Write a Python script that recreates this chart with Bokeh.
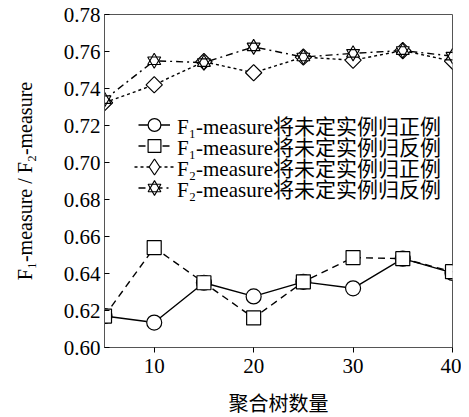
from bokeh.plotting import figure
from bokeh.models import Range1d, FixedTicker, Legend, LegendItem
from bokeh.embed import file_html
from bokeh.resources import INLINE
import numpy as np

trees = [5, 10, 15, 20, 25, 30, 35, 40]
f1_pos = [0.617, 0.6135, 0.635, 0.6276, 0.6355, 0.632, 0.648, 0.6403]
f1_neg = [0.617, 0.654, 0.635, 0.616, 0.6355, 0.6486, 0.648, 0.641]
f2_pos = [0.7323, 0.742, 0.7545, 0.7485, 0.757, 0.7553, 0.7605, 0.7548]
f2_neg = [0.734, 0.755, 0.754, 0.7625, 0.757, 0.759, 0.7605, 0.7575]
x_ticks = [10, 20, 30, 40]
y_ticks = [0.60, 0.62, 0.64, 0.66, 0.68, 0.70, 0.72, 0.74, 0.76, 0.78]
labels = ["F₁-measure将未定实例归正例", "F₁-measure将未定实例归反例",
          "F₂-measure将未定实例归正例", "F₂-measure将未定实例归反例"]
x_label = "聚合树数量"
y_label = "F₁-measure / F₂-measure"

SERIF = "Liberation Serif, Noto Sans CJK SC"

p = figure(width=461, height=417, output_backend="svg", toolbar_location=None,
           x_range=Range1d(5, 40), y_range=Range1d(0.60, 0.78),
           min_border_left=104, min_border_right=9, min_border_top=14, min_border_bottom=69)
p.xgrid.visible = False
p.ygrid.visible = False
p.outline_line_color = "#555555"
p.outline_line_width = 1
p.background_fill_color = "white"
p.border_fill_color = "white"

for ax in (p.xaxis[0], p.yaxis[0]):
    ax.axis_line_color = "#555555"
    ax.major_tick_line_color = "black"
    ax.minor_tick_line_color = None
    ax.major_label_text_font = SERIF
    ax.major_label_text_font_size = "21px"
    ax.major_label_text_color = "black"
    ax.axis_label_text_font = SERIF
    ax.axis_label_text_font_style = "normal"
    ax.axis_label_text_color = "black"

p.xaxis.ticker = FixedTicker(ticks=x_ticks)
p.yaxis.ticker = FixedTicker(ticks=y_ticks)
p.xaxis.major_label_overrides = {t: str(t) for t in x_ticks}
p.yaxis.major_label_overrides = {t: f"{t:.2f}" for t in y_ticks}
p.xaxis.major_tick_in = 0
p.xaxis.major_tick_out = 5
p.yaxis.major_tick_in = 5
p.yaxis.major_tick_out = 0
p.xaxis.major_label_standoff = 6
p.yaxis.major_label_standoff = 4
p.xaxis.axis_label = x_label
p.yaxis.axis_label = y_label
p.xaxis.axis_label_text_font_size = "20px"
p.yaxis.axis_label_text_font_size = "20px"
p.xaxis.axis_label_standoff = 17
p.yaxis.axis_label_standoff = 25

LW = 1.4
MLW = 1.2

# F1 positive: solid, circle
r1 = p.line(trees, f1_pos, line_color="black", line_width=LW)
m1 = p.scatter(trees, f1_pos, marker="circle", size=15, fill_color="white",
               line_color="black", line_width=MLW)

# F1 negative: dashed, square
r2 = p.line(trees, f1_neg, line_color="black", line_width=LW, line_dash="7 5")
m2 = p.scatter(trees, f1_neg, marker="square", size=14, fill_color="white",
               line_color="black", line_width=MLW)

# F2 positive: dotted, diamond (small diamond hidden under the rotated square,
# used only for the legend glyph)
r3 = p.line(trees, f2_pos, line_color="black", line_width=LW, line_dash="3 3")
m3_leg = p.scatter(trees, f2_pos, marker="diamond", size=6, fill_color="white",
                   line_color="black", line_width=MLW)
m3 = p.scatter(trees, f2_pos, marker="square", angle=np.pi / 4, size=11.5,
               fill_color="white", line_color="black", line_width=MLW)

# F2 negative: dash-dot, hexagram
r4 = p.line(trees, f2_neg, line_color="black", line_width=LW, line_dash="7 4 2 4")
s1 = p.scatter(trees, f2_neg, marker="triangle", size=13, fill_color="white", line_color=None)
s2 = p.scatter(trees, f2_neg, marker="inverted_triangle", size=13, fill_color="white", line_color=None)
s3 = p.scatter(trees, f2_neg, marker="triangle", size=13, fill_color=None,
               line_color="black", line_width=1.1)
s4 = p.scatter(trees, f2_neg, marker="inverted_triangle", size=13, fill_color=None,
               line_color="black", line_width=1.1)

entries = [
    (labels[0], [r1, m1], 205, 34, 32, 7),
    (labels[1], [r2, m2], 184, 34, 32, 7),
    (labels[2], [r3, m3_leg], 160, 30, 40, 3),
    (labels[3], [r4, s1, s2, s3, s4], 142, 34, 32, 7),
]
for lab, rends, ypos, xpos, gw, stand in entries:
    gh = 35 if gw == 32 else 41
    lg = Legend(items=[LegendItem(label=lab, renderers=rends)], location=(xpos, ypos))
    lg.label_text_font = SERIF
    lg.label_text_font_size = "21px"
    lg.label_text_color = "black"
    lg.glyph_width = gw
    lg.glyph_height = gh
    lg.label_height = gh
    lg.spacing = 0
    lg.label_standoff = stand
    lg.padding = 0
    lg.margin = 0
    lg.border_line_alpha = 0
    lg.background_fill_alpha = 0
    p.add_layout(lg, "center")

open("out.html", "w").write(file_html(p, INLINE))
